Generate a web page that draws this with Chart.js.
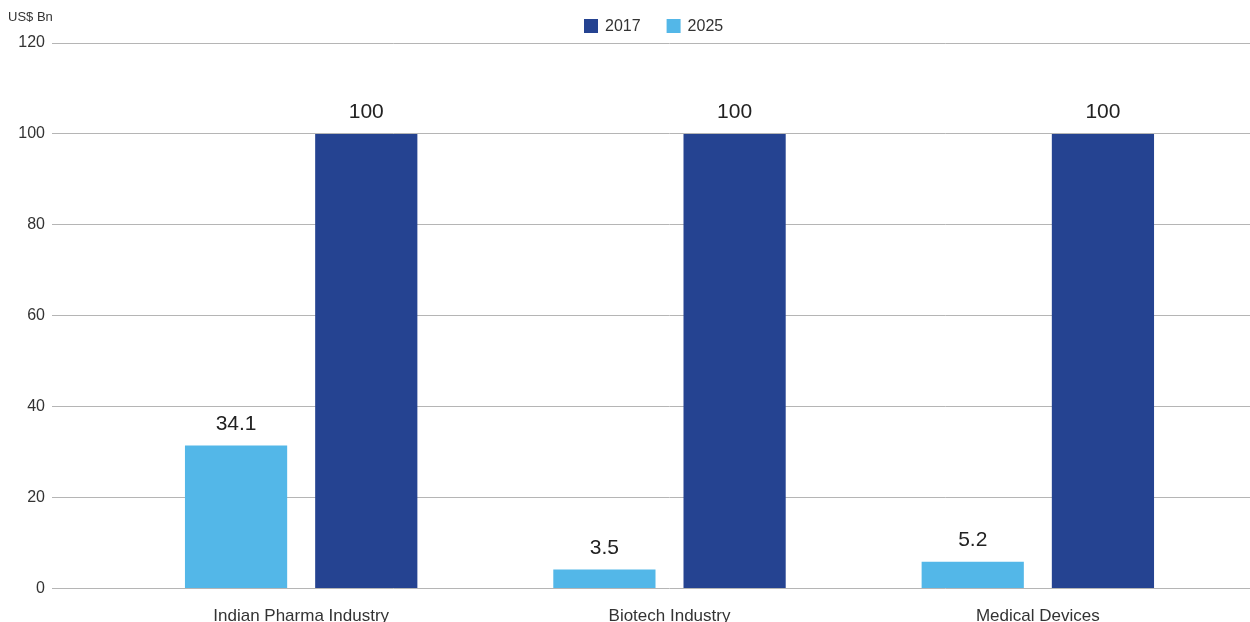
<!DOCTYPE html>
<html>
<head>
<meta charset="utf-8">
<script src="https://cdn.jsdelivr.net/npm/chart.js@4"></script>
<style>
  html, body { margin: 0; padding: 0; background: #fff; overflow: hidden; }
  #wrap { position: relative; width: 1250px; height: 645px; }
</style>
</head>
<body>
<div id="wrap"><canvas id="marketChart"></canvas></div>
<script>
// categories and series
const categories = ["Indian Pharma Industry", "Biotech Industry", "Medical Devices"];
const values2025 = [31.5, 4.2, 5.9];   // bar heights as drawn
const values2017 = [100, 100, 100];
const labels2025 = ["34.1", "3.5", "5.2"]; // printed on top of bars
const labels2017 = ["100", "100", "100"];
const yTicks = [0, 20, 40, 60, 80, 100, 120];

const FONT = "'Liberation Sans', Arial, Helvetica, sans-serif";
const GRID = "#b5b5b5";

// value text above each bar, unit label and the legend (2017 first)
const barLabels = {
  id: "barLabels",
  afterDatasetsDraw(chart) {
    const ctx = chart.ctx;
    const texts = [labels2025, labels2017];
    ctx.save();
    ctx.font = "21px " + FONT;
    ctx.fillStyle = "#222";
    ctx.textAlign = "center";
    ctx.textBaseline = "bottom";
    chart.data.datasets.forEach((ds, i) => {
      chart.getDatasetMeta(i).data.forEach((bar, j) => {
        ctx.fillText(texts[i][j], bar.x, bar.y - 11);
      });
    });

    ctx.font = "13px " + FONT;
    ctx.fillStyle = "#333";
    ctx.textAlign = "left";
    ctx.textBaseline = "middle";
    ctx.fillText("US$ Bn", 8, 17);

    // legend
    ctx.font = "16px " + FONT;
    var x = 584;
    var items = chart.data.datasets.slice().reverse();
    items.forEach((ds) => {
      ctx.fillStyle = ds.backgroundColor;
      ctx.fillRect(x, 19, 14, 14);
      ctx.fillStyle = "#333";
      ctx.fillText(ds.label, x + 21, 26.5);
      x += 21 + ctx.measureText(ds.label).width + 26;
    });
    ctx.restore();
  }
};

const ctx = document.getElementById("marketChart").getContext("2d");
const marketChart = new Chart(ctx, {
  type: "bar",
  data: {
    labels: categories,
    datasets: [
      {
        label: "2025",
        data: values2025,
        backgroundColor: "#53b7e8",
        categoryPercentage: 0.707,
        barPercentage: 0.785,
      },
      {
        label: "2017",
        data: values2017,
        backgroundColor: "#254391",
        categoryPercentage: 0.707,
        barPercentage: 0.785,
      },
    ],
  },
  options: {
    responsive: true,
    maintainAspectRatio: false,
    animation: false,
    layout: { padding: { top: 43, left: 0, right: 0, bottom: 0 } },
    plugins: {
      legend: { display: false },
      tooltip: { enabled: false },
    },
    scales: {
      x: {
        grid: { display: false, drawTicks: false },
        border: { display: false },
        ticks: {
          padding: 18,
          color: "#333",
          font: { family: FONT, size: 17 },
        },
      },
      y: {
        min: 0,
        max: 120,
        afterBuildTicks(scale) {
          scale.ticks = yTicks.map((v) => ({ value: v }));
        },
        afterFit(scale) {
          scale.width = 117;
        },
        grid: { color: GRID, tickLength: 65, tickColor: GRID },
        border: { display: false },
        ticks: {
          padding: 7,
          color: "#333",
          font: { family: FONT, size: 16 },
        },
      },
      y2: {
        position: "right",
        min: 0,
        max: 120,
        afterBuildTicks(scale) {
          scale.ticks = yTicks.map((v) => ({ value: v }));
        },
        afterFit(scale) {
          scale.width = 28;
        },
        grid: { drawOnChartArea: false, color: GRID, tickLength: 28, tickColor: GRID },
        border: { display: false },
        ticks: { display: false },
      },
    },
  },
  plugins: [barLabels],
});
</script>
</body>
</html>
